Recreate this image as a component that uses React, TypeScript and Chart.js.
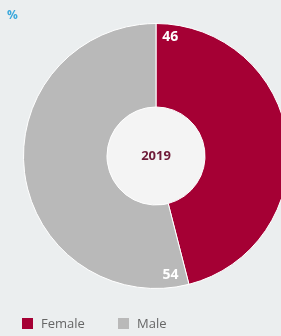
import React, { useEffect, useRef } from "react";
import { Chart, registerables } from "chart.js";

Chart.register(...registerables);

const categories = ["Female", "Male"];
const values = [46, 54];
const colors = ["#a50034", "#b9b9b9"];
const centerLabel = "2019";
const unitLabel = "%";

const labelsPlugin = {
  id: "donutLabels",
  beforeDatasetsDraw(chart: any) {
    const meta = chart.getDatasetMeta(0);
    const arc = meta.data[0];
    if (!arc) return;
    const ctx = chart.ctx;
    ctx.save();
    ctx.beginPath();
    ctx.arc(arc.x, arc.y, arc.innerRadius, 0, Math.PI * 2);
    ctx.fillStyle = "#f4f4f4";
    ctx.fill();
    ctx.restore();
  },
  afterDatasetsDraw(chart: any) {
    const meta = chart.getDatasetMeta(0);
    const ctx = chart.ctx;
    const offsets = [0.12, 0.13];
    ctx.save();
    ctx.font = "bold 14px 'Open Sans', sans-serif";
    ctx.fillStyle = "#ffffff";
    ctx.textAlign = "center";
    ctx.textBaseline = "middle";
    meta.data.forEach((a: any, i: number) => {
      const ang = a.startAngle + offsets[i];
      const r = a.outerRadius - 13;
      ctx.fillText(String(values[i]), a.x + Math.cos(ang) * r, a.y + Math.sin(ang) * r);
    });
    const a0 = meta.data[0];
    ctx.font = "bold 13px 'Open Sans', sans-serif";
    ctx.fillStyle = "#6e1a38";
    ctx.fillText(centerLabel, a0.x, a0.y);
    ctx.restore();
  },
};

export default function App() {
  const ref = useRef<HTMLCanvasElement>(null);
  useEffect(() => {
    if (!ref.current) return;
    const chart = new Chart(ref.current, {
      type: "doughnut",
      data: {
        labels: categories,
        datasets: [
          {
            data: values,
            backgroundColor: colors,
            borderColor: "#ffffff",
            borderWidth: 1,
          },
        ],
      },
      options: {
        responsive: false,
        animation: false,
        cutout: "37%",
        layout: { padding: { left: 23, right: 11, top: 23, bottom: 47 } },
        plugins: { legend: { display: false }, tooltip: { enabled: false } },
      },
      plugins: [labelsPlugin],
    });
    return () => chart.destroy();
  }, []);

  const legendX = [22, 118];

  return (
    <div
      style={{
        position: "fixed",
        left: 0,
        top: 0,
        width: 281,
        height: 336,
        overflow: "hidden",
        background: "#ebeeef",
        fontFamily: "'Open Sans', sans-serif",
      }}
    >
      <canvas ref={ref} width={300} height={336} style={{ position: "absolute", left: 0, top: 0 }} />
      <div style={{ position: "absolute", left: 7, top: 6, color: "#3aa8dc", fontSize: 12, fontWeight: "bold" }}>
        {unitLabel}
      </div>
      {categories.map((c, i) => (
        <div
          key={c}
          style={{
            position: "absolute",
            left: legendX[i],
            top: 314,
            display: "flex",
            alignItems: "center",
            fontSize: 13,
            color: "#666",
          }}
        >
          <span style={{ width: 11, height: 11, background: colors[i], display: "inline-block", marginRight: 8 }} />
          {c}
        </div>
      ))}
    </div>
  );
}
